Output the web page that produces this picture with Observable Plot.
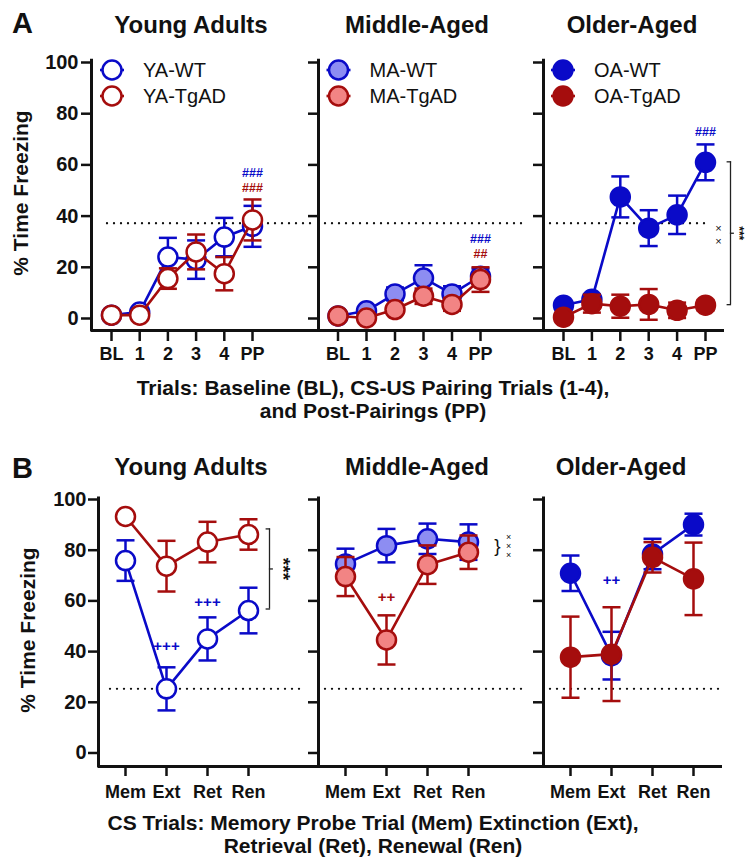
<!DOCTYPE html>
<html><head><meta charset="utf-8">
<script src="https://cdn.jsdelivr.net/npm/d3@7"></script>
<script src="https://cdn.jsdelivr.net/npm/@observablehq/plot@0.6"></script>
<style>
body{margin:0;background:#fff;}
#wrap{position:relative;width:745px;height:857px;overflow:hidden;background:#fff;}
#wrap svg{position:absolute;left:0;}
</style></head><body><div id="wrap"></div>
<script>
// ---------- data ----------
const trialsA = ["BL", "1", "2", "3", "4", "PP"];
const trialsB = ["Mem", "Ext", "Ret", "Ren"];
const groups = ["Young Adults", "Middle-Aged", "Older-Aged"];
const wtNames = ["YA-WT", "MA-WT", "OA-WT"];
const tgNames = ["YA-TgAD", "MA-TgAD", "OA-TgAD"];
const yTicks = [0, 20, 40, 60, 80, 100];
const refA = 37.2;
const refB = 25.3;

// Panel A (acquisition) mean and SEM
const yaWT_A = [1.3, 2.5, 24.0, 23.0, 31.8, 36.0];
const yaWT_A_sem = [0.5, 1.0, 7.5, 7.5, 7.5, 8.0];
const yaTg_A = [1.3, 1.3, 15.6, 26.0, 17.5, 38.5];
const yaTg_A_sem = [0.5, 0.5, 4.0, 6.8, 6.5, 8.0];
const maWT_A = [1.0, 3.0, 9.6, 15.8, 9.6, 16.5];
const maWT_A_sem = [0.5, 1.0, 2.5, 5.0, 3.0, 3.0];
const maTg_A = [1.0, 0.2, 3.5, 8.7, 5.5, 15.2];
const maTg_A_sem = [0.5, 0.5, 1.5, 3.0, 2.5, 4.8];
const oaWT_A = [5.2, 7.5, 47.5, 35.3, 40.5, 61.0];
const oaWT_A_sem = [1.0, 2.0, 8.0, 7.0, 7.5, 7.0];
const oaTg_A = [0.5, 5.8, 4.8, 5.5, 3.2, 5.2];
const oaTg_A_sem = [0.5, 3.5, 4.5, 6.0, 3.0, 2.0];

// Panel B (memory / extinction) mean and SEM
const yaWT_B = [75.9, 25.3, 45.0, 56.2];
const yaWT_B_sem = [8.0, 8.5, 8.5, 9.0];
const yaTg_B = [93.3, 73.7, 83.2, 86.2];
const yaTg_B_sem = [1.0, 10.0, 8.0, 6.0];
const maWT_B = [74.6, 81.8, 84.5, 83.2];
const maWT_B_sem = [6.0, 6.6, 6.0, 7.0];
const maTg_B = [69.6, 44.6, 74.3, 79.2];
const maTg_B_sem = [7.7, 9.7, 7.6, 6.6];
const oaWT_B = [70.9, 38.4, 78.5, 90.1];
const oaWT_B_sem = [7.0, 9.4, 6.0, 4.3];
const oaTg_B = [37.8, 39.0, 77.2, 68.7];
const oaTg_B_sem = [16.0, 18.5, 6.0, 14.3];

// significance marks (value positions in data units)
const annA = [
  {g: 0, x: 5, y: 57.0, text: "###", c: "wt"},
  {g: 0, x: 5, y: 50.8, text: "###", c: "tg"},
  {g: 1, x: 5, y: 31.0, text: "###", c: "wt"},
  {g: 1, x: 5, y: 25.2, text: "##", c: "tg"},
  {g: 2, x: 5, y: 72.7, text: "###", c: "wt"}
];
const annB = [
  {g: 0, x: 1, y: 42.3, text: "+++", c: "wt"},
  {g: 0, x: 2, y: 59.3, text: "+++", c: "wt"},
  {g: 1, x: 1, y: 61.3, text: "++", c: "tg"},
  {g: 2, x: 1, y: 68.0, text: "++", c: "wt"}
];
const bracketsA = [{g: 2, x: 5, y1: 61.2, y2: 5.4}];
const bracketsB = [{g: 0, x: 3, y1: 88.4, y2: 56.8}];

// ---------- style / layout ----------
const FONT = '"Liberation Sans", Arial, Helvetica, sans-serif';
const BLUE = "#0a0ac8", RED = "#a50d0d";
const wtStyles = [{stroke: BLUE, fill: "#ffffff"}, {stroke: BLUE, fill: "#8d8df2"}, {stroke: BLUE, fill: BLUE}];
const tgStyles = [{stroke: RED, fill: "#ffffff"}, {stroke: RED, fill: "#f28484"}, {stroke: RED, fill: RED}];
const W = 745;
const rowA = {top: 0, height: 380, marginTop: 62, marginBottom: 50, yMin: -4.69, yTop: 101.3, xTickSize: 11, xTickPad: 6, yTickPad: 3};
const rowB = {top: 420, height: 400, marginTop: 79, marginBottom: 54, yMin: -5.33, yTop: 101, xTickSize: 10, xTickPad: 9, yTickPad: 2};
const facetsA = [
  {left: 91, right: 318, range: [111, 252], inset: [16, 6]},
  {left: 318, right: 543, range: [337.5, 480], inset: [7, 20]},
  {left: 543, right: 724, range: [563, 705], inset: [7, 17]}
];
const facetsB = [
  {left: 98, right: 318, range: [125, 248], inset: [12, 18]},
  {left: 318, right: 543, range: [345, 468], inset: [7, 15]},
  {left: 543, right: 722, range: [570, 693], inset: [7, 2]}
];

const cap = {draw(ctx, size) { const r = Math.sqrt(size / Math.PI); ctx.moveTo(-r, 0); ctx.lineTo(r, 0); }};
const capL = {draw(ctx, size) { const r = Math.sqrt(size / Math.PI); ctx.moveTo(-r, 0); ctx.lineTo(0, 0); }};
const capR = {draw(ctx, size) { const r = Math.sqrt(size / Math.PI); ctx.moveTo(0, 0); ctx.lineTo(r, 0); }};

function table(means, sems) {
  return means.map((y, i) => ({i, y, e: sems[i]}));
}

function seriesMarks(data, st) {
  return [
    Plot.ruleX(data, {x: "i", y1: d => d.y - d.e, y2: d => d.y + d.e, stroke: st.stroke, strokeWidth: 2.5}),
    Plot.dot(data, {x: "i", y: d => d.y + d.e, symbol: cap, r: 9, fill: "none", stroke: st.stroke, strokeWidth: 2.5}),
    Plot.dot(data, {x: "i", y: d => d.y - d.e, symbol: cap, r: 9, fill: "none", stroke: st.stroke, strokeWidth: 2.5}),
    Plot.line(data, {x: "i", y: "y", stroke: st.stroke, strokeWidth: 2.6}),
    Plot.dot(data, {x: "i", y: "y", r: 9.5, fill: st.fill, stroke: st.stroke, strokeWidth: 2.5})
  ];
}

function bracketMarks(b, dx) {
  const mid = [{x: b.x, y: (b.y1 + b.y2) / 2}];
  return [
    Plot.ruleX([b], {x: "x", y1: "y1", y2: "y2", dx, stroke: "#222", strokeWidth: 1.3}),
    Plot.dot([{x: b.x, y: b.y1}, {x: b.x, y: b.y2}], {x: "x", y: "y", dx: dx + 0.6, symbol: capL, r: 4.5, fill: "none", stroke: "#222", strokeWidth: 1.3}),
    Plot.dot(mid, {x: "x", y: "y", dx: dx - 0.6, symbol: capR, r: 4, fill: "none", stroke: "#222", strokeWidth: 1.3})
  ];
}

function crossMarks(x, yCenter, count, dx, spacingPx, size, yPerPx) {
  const pts = d3.range(count).map(k => ({x, y: yCenter + ((count - 1) / 2 - k) * spacingPx * yPerPx}));
  return Plot.text(pts, {x: "x", y: "y", text: () => "×", dx, fontSize: size, lineAnchor: "middle", fill: "#111"});
}

function facet(row, f, gi, trials, wt, tg, ref, ann, extra) {
  const n = trials.length;
  const xLeft = (f.left - f.range[0]) / (f.range[1] - f.range[0]) * (n - 1);
  const marks = [
    Plot.ruleY([ref], {stroke: "#111", strokeWidth: 2.3, strokeDasharray: "0,7", strokeLinecap: "round", insetLeft: f.inset[0], insetRight: f.inset[1]}),
    Plot.ruleY([row.yMin], {stroke: "#111", strokeWidth: 3}),
    Plot.ruleX([xLeft], {y1: row.yMin - 0.6, y2: row.yTop, stroke: "#111", strokeWidth: 3}),
    Plot.axisY({ticks: yTicks, tickSize: 10, tickPadding: row.yTickPad, tickFormat: gi === 0 ? (d => String(d)) : (() => ""),
      fontSize: 20, fontWeight: "bold", strokeWidth: 2.5, stroke: "#111", fill: "#111", label: null}),
    Plot.axisX({ticks: d3.range(n), tickFormat: i => trials[i], tickSize: row.xTickSize, tickPadding: row.xTickPad,
      fontSize: 18, fontWeight: "bold", strokeWidth: 2.5, stroke: "#111", fill: "#111", label: null}),
    ...seriesMarks(wt, wtStyles[gi]),
    ...seriesMarks(tg, tgStyles[gi]),
    Plot.text(ann.filter(a => a.g === gi), {x: "x", y: "y", text: "text", fill: a => a.c === "wt" ? BLUE : RED,
      fontSize: row === rowA ? 12.5 : 15, fontWeight: "bold", lineAnchor: "middle"}),
    ...extra
  ];
  const svg = Plot.plot({
    width: W, height: row.height,
    marginTop: row.marginTop, marginBottom: row.marginBottom,
    marginLeft: f.left, marginRight: W - f.right,
    x: {type: "linear", domain: [0, n - 1], range: f.range},
    y: {domain: [row.yMin, 100]},
    style: {fontFamily: FONT, background: "transparent", overflow: "visible", color: "#111"},
    marks
  });
  svg.style.position = "absolute";
  svg.style.left = "0px";
  svg.style.top = row.top + "px";
  return svg;
}

const wrap = document.getElementById("wrap");
const A = [[yaWT_A, yaWT_A_sem, yaTg_A, yaTg_A_sem], [maWT_A, maWT_A_sem, maTg_A, maTg_A_sem], [oaWT_A, oaWT_A_sem, oaTg_A, oaTg_A_sem]];
const B = [[yaWT_B, yaWT_B_sem, yaTg_B, yaTg_B_sem], [maWT_B, maWT_B_sem, maTg_B, maTg_B_sem], [oaWT_B, oaWT_B_sem, oaTg_B, oaTg_B_sem]];
const perPxA = (100 - rowA.yMin) / (rowA.height - rowA.marginTop - rowA.marginBottom);
const perPxB = (100 - rowB.yMin) / (rowB.height - rowB.marginTop - rowB.marginBottom);

A.forEach((s, gi) => {
  let extra = [];
  if (gi === 2) {
    const b = bracketsA[0];
    extra = [
      ...bracketMarks(b, 25),
      crossMarks(b.x, 32.8, 2, 13, 13, 11, perPxA),
      Plot.text([{x: b.x, y: (b.y1 + b.y2) / 2}], {x: "x", y: "y", text: () => "***", dx: 33, rotate: 90, fontSize: 12, fontWeight: "bold", lineAnchor: "middle", fill: "#111"})
    ];
  }
  wrap.appendChild(facet(rowA, facetsA[gi], gi, trialsA, table(s[0], s[1]), table(s[2], s[3]), refA, annA, extra));
});
B.forEach((s, gi) => {
  let extra = [];
  if (gi === 0) {
    const b = bracketsB[0];
    extra = [
      ...bracketMarks(b, 21),
      Plot.text([{x: b.x, y: (b.y1 + b.y2) / 2}], {x: "x", y: "y", text: () => "***", dx: 35, rotate: 90, fontSize: 19, fontWeight: "bold", lineAnchor: "middle", fill: "#111"})
    ];
  }
  if (gi === 1) {
    extra = [
      Plot.text([{x: 3, y: 81.6}], {x: "x", y: "y", text: () => "}", dx: 29, fontSize: 19, lineAnchor: "middle", fill: "#111"}),
      crossMarks(3, 81.6, 3, 40, 9, 9, perPxB)
    ];
  }
  wrap.appendChild(facet(rowB, facetsB[gi], gi, trialsB, table(s[0], s[1]), table(s[2], s[3]), refB, annB, extra));
});

// ---------- titles, labels, legends ----------
const ov = d3.select(wrap).append("svg").attr("width", W).attr("height", 857)
  .style("position", "absolute").style("top", "0px").style("left", "0px")
  .attr("font-family", FONT).attr("fill", "#111");

ov.append("text").attr("x", 12).attr("y", 33).attr("font-size", 29).attr("font-weight", "bold").text("A");
ov.append("text").attr("x", 12).attr("y", 478).attr("font-size", 29).attr("font-weight", "bold").text("B");

const titleXA = [191, 417, 632], titleXB = [191, 417, 621];
groups.forEach((g, i) => {
  ov.append("text").attr("x", titleXA[i]).attr("y", 33).attr("text-anchor", "middle").attr("font-size", 24).attr("font-weight", "bold").text(g);
  ov.append("text").attr("x", titleXB[i]).attr("y", 475).attr("text-anchor", "middle").attr("font-size", 24).attr("font-weight", "bold").text(g);
});

ov.append("text").attr("transform", "translate(28,193) rotate(-90)").attr("text-anchor", "middle").attr("font-size", 21).attr("font-weight", "bold").text("% Time Freezing");
ov.append("text").attr("transform", "translate(35,630) rotate(-90)").attr("text-anchor", "middle").attr("font-size", 21).attr("font-weight", "bold").text("% Time Freezing");

const xTitleA = ["Trials: Baseline (BL), CS-US Pairing Trials (1-4),", "and Post-Pairings (PP)"];
const xTitleB = ["CS Trials: Memory Probe Trial (Mem) Extinction (Ext),", "Retrieval (Ret), Renewal (Ren)"];
xTitleA.forEach((t, i) => ov.append("text").attr("x", 373).attr("y", 395 + i * 22.5).attr("text-anchor", "middle").attr("font-size", 21).attr("font-weight", "bold").text(t));
xTitleB.forEach((t, i) => ov.append("text").attr("x", 373).attr("y", 830 + i * 22.5).attr("text-anchor", "middle").attr("font-size", 21).attr("font-weight", "bold").text(t));

const legX = [112, 338.5, 563];
const legY = [70, 96];
groups.forEach((g, i) => {
  [[wtNames[i], wtStyles[i]], [tgNames[i], tgStyles[i]]].forEach(([name, st], j) => {
    const cx = legX[i], cy = legY[j];
    ov.append("line").attr("x1", cx - 12).attr("x2", cx + 12).attr("y1", cy).attr("y2", cy).attr("stroke", st.stroke).attr("stroke-width", 2.6);
    ov.append("circle").attr("cx", cx).attr("cy", cy).attr("r", 9.5).attr("fill", st.fill).attr("stroke", st.stroke).attr("stroke-width", 2.5);
    ov.append("text").attr("x", cx + 31).attr("y", cy + 7).attr("font-size", 20).text(name);
  });
});
</script></body></html>
